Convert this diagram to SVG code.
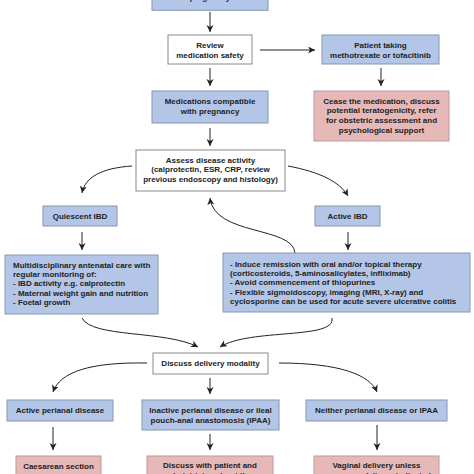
<svg xmlns="http://www.w3.org/2000/svg" width="474" height="474" viewBox="0 0 474 474">
<style>
text{font-family:"Liberation Sans",Arial,sans-serif;font-weight:bold;font-size:8px;fill:#222}
.c{text-anchor:middle}
.blue{fill:#b4c6e7;stroke:#8497b0;stroke-width:1}
.red{fill:#e6b9b8;stroke:#b79c9c;stroke-width:1}
.white{fill:#fff;stroke:#8a8a8a;stroke-width:1}
#connectors path{fill:none;stroke:#222;stroke-width:1;marker-end:url(#ah)}
</style>
<defs>
<marker id="ah" markerUnits="userSpaceOnUse" markerWidth="8" markerHeight="8" refX="7" refY="3.5" orient="auto">
<path d="M0,0 L7,3.5 L0,7 L2,3.5 z" fill="#222"/>
</marker>
</defs>
<rect width="474" height="474" fill="#fff"/>
<g id="connectors">
<path d="M210,12 V32"/>
<path d="M260,50 H315"/>
<path d="M381,68 V86"/>
<path d="M210,68 V86"/>
<path d="M210,128 V146"/>
<path d="M132,166 C102,168 85,177 82,193"/>
<path d="M288,166 C320,172 340,182 348,196"/>
<path d="M295,253 C293,226 214,236 210,198"/>
<path d="M82,232 V250"/>
<path d="M348,232 V250"/>
<path d="M82,318 C92,338 165,330 198,347"/>
<path d="M332,318 C336,340 250,328 220,347"/>
<path d="M147,363 C90,362 60,372 53,392"/>
<path d="M279,363 C340,363 370,375 377,392"/>
<path d="M210,378 V394"/>
<path d="M53,427 V450"/>
<path d="M210,434 V450"/>
<path d="M377,425 V450"/>
</g>
<g id="n-start"><rect class="blue" x="152" y="-10" width="116" height="20.3"/><text class="c" x="210" y="-0.5">pregnancy</text></g>
<g id="n-review"><rect class="white" x="168" y="35" width="84" height="29"/><text class="c" x="210" y="48">Review</text><text class="c" x="210" y="57.5">medication safety</text></g>
<g id="n-patient"><rect class="blue" x="322" y="35" width="117" height="29"/><text class="c" x="380.5" y="48">Patient taking</text><text class="c" x="380.5" y="57.5">methotrexate or tofacitinib</text></g>
<g id="n-cease"><rect class="red" x="314" y="91" width="135" height="50"/><text class="c" x="381.5" y="103.7">Cease the medication, discuss</text><text class="c" x="381.5" y="113.3">potential teratogenicity, refer</text><text class="c" x="381.5" y="122.9">for obstetric assessment and</text><text class="c" x="381.5" y="132.5">psychological support</text></g>
<g id="n-compatible"><rect class="blue" x="152" y="91" width="116" height="32"/><text class="c" x="210" y="104">Medications compatible</text><text class="c" x="210" y="113.5">with pregnancy</text></g>
<g id="n-assess"><rect class="white" x="136" y="150" width="149" height="41"/><text class="c" x="210.5" y="162.5">Assess disease activity</text><text class="c" x="210.5" y="172">(calprotectin, ESR, CRP, review</text><text class="c" x="210.5" y="181.5">previous endoscopy and histology)</text></g>
<g id="n-quiescent"><rect class="blue" x="43" y="206" width="74" height="20"/><text class="c" x="80" y="218.5">Quiescent IBD</text></g>
<g id="n-active"><rect class="blue" x="315" y="206" width="65" height="20"/><text class="c" x="347.5" y="218.5">Active IBD</text></g>
<g id="n-multi"><rect class="blue" x="5" y="255" width="153" height="59"/><text x="13" y="267.5">Multidisciplinary antenatal care with</text><text x="13" y="276.9">regular monitoring of:</text><text x="13" y="286.3">- IBD activity e.g. calprotectin</text><text x="13" y="295.7">- Maternal weight gain and nutrition</text><text x="13" y="305.1">- Foetal growth</text></g>
<g id="n-therapy"><rect class="blue" x="223" y="253" width="247" height="59"/><text x="230" y="266.5">- Induce remission with oral and/or topical therapy</text><text x="230" y="275.9">(corticosteroids, 5-aminosalicylates, infliximab)</text><text x="230" y="285.3">- Avoid commencement of thiopurines</text><text x="230" y="294.7">- Flexible sigmoidoscopy, imaging (MRI, X-ray) and</text><text x="230" y="304.1">cyclosporine can be used for acute severe ulcerative colitis</text></g>
<g id="n-delivery"><rect class="white" x="153" y="353" width="115" height="21"/><text class="c" x="210.5" y="366">Discuss delivery modality</text></g>
<g id="n-perianal"><rect class="blue" x="7" y="400" width="106" height="21"/><text class="c" x="60" y="412.7">Active perianal disease</text></g>
<g id="n-inactive"><rect class="blue" x="142" y="400" width="137" height="30"/><text class="c" x="210.5" y="412.5">Inactive perianal disease or ileal</text><text class="c" x="210.5" y="422.5">pouch-anal anastomosis (IPAA)</text></g>
<g id="n-neither"><rect class="blue" x="306" y="400" width="141" height="21"/><text class="c" x="376.5" y="412.7">Neither perianal disease or IPAA</text></g>
<g id="n-caesarean"><rect class="red" x="16" y="456" width="85" height="30"/><text class="c" x="58.5" y="468.8">Caesarean section</text></g>
<g id="n-discuss"><rect class="red" x="147" y="456" width="126" height="30"/><text class="c" x="210" y="468.3">Discuss with patient and</text><text class="c" x="210" y="477.5">obstetrician about the</text></g>
<g id="n-vaginal"><rect class="red" x="314" y="456" width="125" height="30"/><text class="c" x="376.5" y="468.3">Vaginal delivery unless</text><text class="c" x="376.5" y="477.5">caesarean delivery indicated</text></g>
</svg>
